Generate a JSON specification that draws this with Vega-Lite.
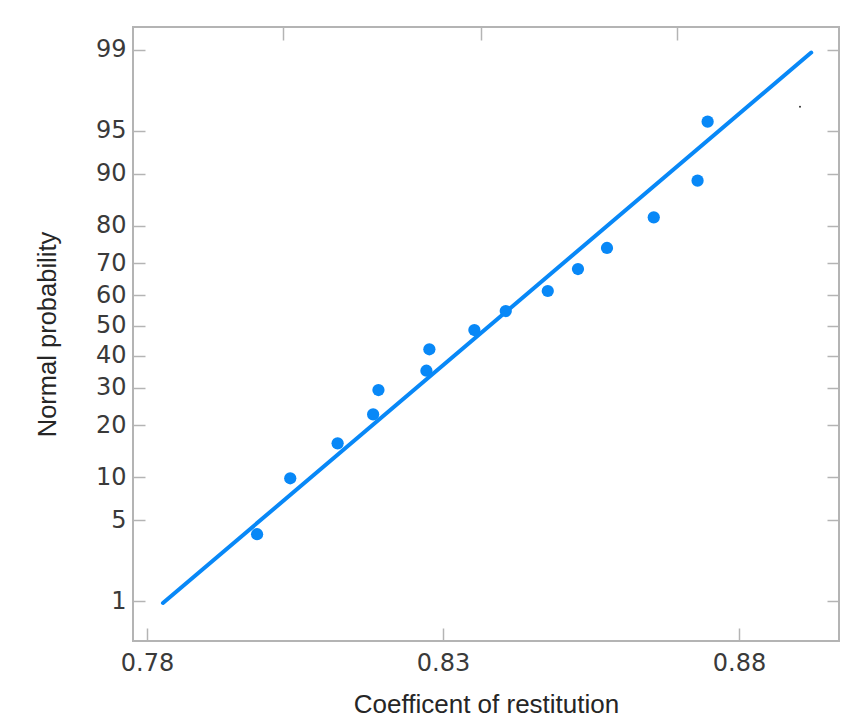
{
  "$schema": "https://vega.github.io/schema/vega-lite/v6.json",
  "width": 706,
  "height": 614,
  "autosize": {"type": "none"},
  "padding": {"left": 133, "top": 27, "right": 21, "bottom": 78},
  "background": "#ffffff",
  "config": {
    "view": {"stroke": "#b4b4b4", "strokeWidth": 2},
    "axis": {
      "grid": false,
      "domain": false,
      "tickColor": "#b4b4b4",
      "tickWidth": 1.5,
      "labelFont": "DejaVu Sans",
      "labelFontSize": 24,
      "labelColor": "#3a3a3a",
      "titleFont": "Liberation Sans",
      "titleFontWeight": "normal",
      "titleColor": "#262626"
    }
  },
  "datasets": {
    "fit": [
      {"coef": 0.7827, "prob": 0.956},
      {"coef": 0.8922, "prob": 98.94}
    ],
    "obs": [
      {"coef": 0.7986, "prob": 3.90},
      {"coef": 0.8042, "prob": 9.85},
      {"coef": 0.8122, "prob": 15.99},
      {"coef": 0.8182, "prob": 22.67},
      {"coef": 0.8191, "prob": 29.30},
      {"coef": 0.8272, "prob": 35.13},
      {"coef": 0.8277, "prob": 42.04},
      {"coef": 0.8353, "prob": 48.48},
      {"coef": 0.8406, "prob": 54.87},
      {"coef": 0.8477, "prob": 61.46},
      {"coef": 0.8528, "prob": 68.33},
      {"coef": 0.8577, "prob": 74.36},
      {"coef": 0.8656, "prob": 81.95},
      {"coef": 0.8730, "prob": 88.93},
      {"coef": 0.8747, "prob": 95.74}
    ],
    "speck": [
      {"coef": 0.8903, "prob": 96.77}
    ]
  },
  "layer": [
    {
      "data": {"name": "fit"},
      "transform": [{"calculate": "quantileNormal(datum.prob / 100)", "as": "z"}],
      "mark": {"type": "line", "color": "#0888f7", "strokeWidth": 4, "strokeCap": "round"},
      "encoding": {
        "x": {
          "field": "coef", "type": "quantitative",
          "scale": {"domain": [0.77764, 0.89689], "nice": false, "zero": false},
          "axis": {
            "orient": "bottom",
            "values": [0.78, 0.83, 0.88],
            "format": ".2f",
            "tickSize": -13,
            "labelPadding": 23,
            "title": "Coefficent of restitution",
            "titleFontSize": 26,
            "titlePadding": 16
          }
        },
        "y": {
          "field": "z", "type": "quantitative",
          "scale": {"domain": [-2.664, 2.5205], "nice": false, "zero": false},
          "axis": {
            "orient": "left",
            "values": [-2.326348, -1.644854, -1.281552, -0.841621, -0.524401, -0.253347, 0, 0.253347, 0.524401, 0.841621, 1.281552, 1.644854, 2.326348],
            "labelExpr": "format(cumulativeNormal(datum.value) * 100, '.0f')",
            "tickSize": -12,
            "labelPadding": 19,
            "title": "Normal probability",
            "titleFontSize": 25.5,
            "titlePadding": 35
          }
        }
      }
    },
    {
      "data": {"name": "obs"},
      "transform": [{"calculate": "quantileNormal(datum.prob / 100)", "as": "z"}],
      "mark": {"type": "point", "filled": true, "opacity": 1, "size": 150, "color": "#0888f7"},
      "encoding": {
        "x": {
          "field": "coef", "type": "quantitative",
          "axis": {
            "orient": "top",
            "values": [0.803, 0.8364, 0.8696],
            "labels": false,
            "tickSize": -13,
            "title": null
          }
        },
        "y": {
          "field": "z", "type": "quantitative",
          "axis": {
            "orient": "right",
            "values": [-2.326348, -1.644854, -1.281552, -0.841621, -0.524401, -0.253347, 0, 0.253347, 0.524401, 0.841621, 1.281552, 1.644854, 2.326348],
            "labels": false,
            "tickSize": -12,
            "title": null
          }
        }
      }
    },
    {
      "data": {"name": "speck"},
      "transform": [{"calculate": "quantileNormal(datum.prob / 100)", "as": "z"}],
      "mark": {"type": "point", "filled": true, "opacity": 1, "size": 4, "color": "#333333"},
      "encoding": {
        "x": {"field": "coef", "type": "quantitative", "axis": null},
        "y": {"field": "z", "type": "quantitative", "axis": null}
      }
    }
  ],
  "resolve": {"axis": {"x": "independent", "y": "independent"}}
}
